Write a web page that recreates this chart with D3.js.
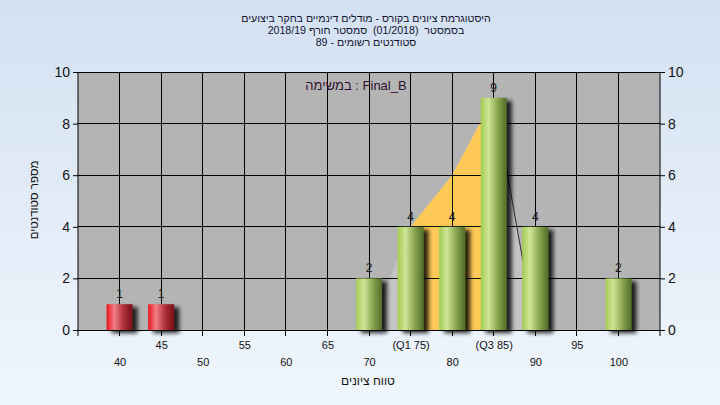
<!DOCTYPE html>
<html><head><meta charset="utf-8">
<script src="https://cdn.jsdelivr.net/npm/d3@7"></script>
<style>
html,body{margin:0;padding:0;}
svg{display:block;}
text{font-family:"Liberation Sans","DejaVu Sans",sans-serif;}
</style></head>
<body>
<svg id="chart" width="720" height="405"></svg>
<script>
const titleLines = [
  "היסטוגרמת ציונים בקורס - מודלים דינמיים בחקר ביצועים",
  "בסמסטר  (01/2018)  סמסטר חורף 2018/19",
  "סטודנטים רשומים - 89"
];
const legendText = "במשימה : Final_B";
const yTitle = "מספר סטודנטים";
const xTitle = "טווח ציונים";
const categories = [40,45,50,55,60,65,70,75,80,85,90,95,100];
const tickLabels = ["40","45","50","55","60","65","70","(Q1 75)","80","(Q3 85)","90","95","100"];
const counts = [1,1,0,0,0,0,2,4,4,9,4,0,2];
const failing = [true,true,false,false,false,false,false,false,false,false,false,false,false];
const curveCategories = [70,75,80,85,90];
const curveValues = [0,4,6,9,0];
const quartileRange = [75,85];
const yTicks = [0,2,4,6,8,10];

const W=720,H=405;
const L=78,R=660,T=72,B=330;
const svg=d3.select("#chart");
const defs=svg.append("defs");

const bg=defs.append("linearGradient").attr("id","bg").attr("x1",0).attr("y1",0).attr("x2",0).attr("y2",1);
bg.append("stop").attr("offset","0%").attr("stop-color","#d4e1f2");
bg.append("stop").attr("offset","100%").attr("stop-color","#f0f6fd");

function barGrad(id,c0,c1,c2,c3){
  const g=defs.append("linearGradient").attr("id",id).attr("x1",0).attr("y1",0).attr("x2",1).attr("y2",0);
  g.append("stop").attr("offset","0%").attr("stop-color",c0);
  g.append("stop").attr("offset","30%").attr("stop-color",c1);
  g.append("stop").attr("offset","65%").attr("stop-color",c2);
  g.append("stop").attr("offset","100%").attr("stop-color",c3);
}
barGrad("gGreen","#a2cc52","#cfe599","#8aa650","#526c28");
barGrad("gRed","#ea121a","#f28088","#b03038","#761018");

const f=defs.append("filter").attr("id","shadow").attr("x","-20%").attr("y","-20%").attr("width","160%").attr("height","160%");
f.append("feGaussianBlur").attr("in","SourceAlpha").attr("stdDeviation",2).attr("result","b");
f.append("feOffset").attr("in","b").attr("dx",5).attr("dy",3).attr("result","o");
f.append("feComponentTransfer").attr("in","o").attr("result","s").append("feFuncA").attr("type","linear").attr("slope",0.85);
const m=f.append("feMerge");
m.append("feMergeNode").attr("in","s");
m.append("feMergeNode").attr("in","SourceGraphic");

svg.append("rect").attr("width",W).attr("height",H).attr("fill","url(#bg)");

const x=d3.scaleLinear().domain([35,105]).range([L,R]);
const y=d3.scaleLinear().domain([0,10]).range([B,T]);

svg.append("rect").attr("x",L).attr("y",T).attr("width",R-L).attr("height",B-T).attr("fill","#b4b4b4");

// area
const area=d3.area().x(d=>x(d[0])).y0(y(0)).y1(d=>y(d[1]));
const pts=curveCategories.map((c,i)=>[c,curveValues[i]]);
svg.append("path").attr("d",area(pts)).attr("fill","#c3c3c3");
const qPts=pts.filter(p=>p[0]>=quartileRange[0]&&p[0]<=quartileRange[1]);
svg.append("path").attr("d",area(qPts)).attr("fill","#fec957");
const desc=pts.filter(p=>p[0]>=quartileRange[1]);
svg.append("path").attr("d",d3.line().x(d=>x(d[0])).y(d=>y(d[1]))(desc)).attr("fill","none").attr("stroke","#303030").attr("stroke-width",1);

// grid
const grid=svg.append("g").attr("stroke","#000").attr("stroke-width",1).attr("shape-rendering","crispEdges");
categories.forEach(c=>grid.append("line").attr("x1",x(c)).attr("x2",x(c)).attr("y1",T).attr("y2",B+6));
yTicks.forEach(t=>grid.append("line").attr("x1",L).attr("x2",R).attr("y1",y(t)).attr("y2",y(t)));

// bars
const bw=26;
const barData=categories.map((c,i)=>({c,v:counts[i],fail:failing[i]})).filter(d=>d.v>0);
svg.append("g").selectAll("rect").data(barData)
  .join("rect")
  .attr("x",d=>x(d.c)-bw/2).attr("y",d=>y(d.v)).attr("width",bw).attr("height",d=>y(0)-y(d.v))
  .attr("fill",d=>d.fail?"url(#gRed)":"url(#gGreen)")
  .attr("filter","url(#shadow)");
svg.append("g").selectAll("text").data(barData)
  .join("text").attr("x",d=>x(d.c)).attr("y",d=>y(d.v)-6).attr("text-anchor","middle")
  .attr("font-size",12).attr("fill","#1a1a1a").text(d=>d.v);

// axes
const yl=svg.append("g").attr("transform",`translate(${L},0)`).call(d3.axisLeft(y).tickValues(yTicks).tickSize(5).tickPadding(3));
const yr=svg.append("g").attr("transform",`translate(${R},0)`).call(d3.axisRight(y).tickValues(yTicks).tickSize(5).tickPadding(3));
[yl,yr].forEach(g=>{g.select(".domain").attr("stroke","#000").attr("d",`M0,${T}V${B+6}`);
  g.selectAll(".tick line").attr("stroke","#000");
  g.selectAll("text").attr("font-size",14).attr("fill","#111").attr("font-family","'Liberation Sans',sans-serif");});
svg.append("line").attr("x1",L).attr("x2",R).attr("y1",B).attr("y2",B).attr("stroke","#000").attr("shape-rendering","crispEdges");

const xg=svg.append("g").attr("transform",`translate(0,${B})`)
  .call(d3.axisBottom(x).tickValues(categories).tickFormat((d,i)=>tickLabels[i]).tickSize(0).tickPadding(0));
xg.select(".domain").remove();
xg.selectAll(".tick text").attr("font-size",11).attr("fill","#111")
  .attr("dy",null).attr("y",(d,i)=>i%2===1?19:36);

// titles
titleLines.forEach((t,i)=>svg.append("text").attr("x",366).attr("y",22+i*12).attr("text-anchor","middle")
  .attr("font-size",10.6).attr("fill","#141432").attr("direction","rtl").style("white-space","pre").text(t));
svg.append("text").attr("x",356).attr("y",90).attr("text-anchor","middle").attr("font-size",13)
  .attr("fill","#301030").attr("direction","ltr").text(legendText);
svg.append("text").attr("transform","translate(38,200) rotate(-90)").attr("text-anchor","middle")
  .attr("font-size",11.5).attr("fill","#111").attr("direction","rtl").text(yTitle);
svg.append("text").attr("x",368).attr("y",385).attr("text-anchor","middle").attr("font-size",12)
  .attr("fill","#111").attr("direction","rtl").text(xTitle);
</script>
</body></html>
